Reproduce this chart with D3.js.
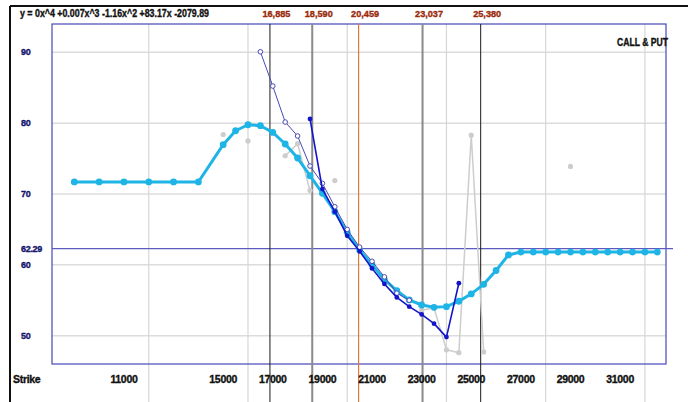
<!DOCTYPE html>
<html>
<head>
<meta charset="utf-8">
<script src="https://cdn.jsdelivr.net/npm/d3@7"></script>
<style>
  body { margin: 0; background: #ffffff; }
  text { font-family: "Liberation Sans", Arial, sans-serif; font-weight: bold; stroke-width: 0.35px; }
</style>
</head>
<body>
<div id="chart"></div>
<script>
// Strike categories and series values
const fitStrikes = [9000, 10000, 11000, 12000, 13000, 14000,
  15000, 15500, 16000, 16500, 17000, 17500, 18000, 18500, 19000, 19500,
  20000, 20500, 21000, 21500, 22000, 22500, 23000, 23500, 24000, 24500,
  25000, 25500, 26000, 26500, 27000, 27500, 28000, 28500, 29000, 29500,
  30000, 30500, 31000, 31500, 32000, 32500];
const fitValues = [71.7, 71.7, 71.7, 71.7, 71.7, 71.7,
  76.96, 78.93, 79.78, 79.64, 78.7, 77.06, 75.08, 72.58, 70.1, 67.5,
  64.6, 62.1, 60.0, 57.9, 56.35, 55.04, 54.33, 54.0, 54.1, 54.86,
  55.9, 57.25, 59.2, 61.4, 61.8, 61.8, 61.8, 61.8, 61.8, 61.8,
  61.8, 61.8, 61.8, 61.8, 61.8, 61.8];

const callStrikes = [16500, 17000, 17500, 18000, 18500, 19000, 19500,
  20000, 20500, 21000, 21500, 22000, 22500];
const callValues = [90.08, 85.24, 80.16, 78.19, 73.95, 71.5, 68.2,
  65.0, 62.5, 60.5, 58.3, 56.0, 55.0];

const putStrikes = [18500, 19000, 19500, 20000, 20500, 21000, 21500,
  22000, 22500, 23000, 23500, 24000, 24500];
const putValues = [80.6, 70.7, 67.5, 64.1, 61.9, 59.5, 57.3,
  55.4, 54.1, 53.0, 51.7, 49.8, 57.4];

// raw points, null = no value (gap in the line)
const rawStrikes = [15000, 15500, 16000, 16500, 17000, 17500, 18000, 18500,
  19000, 19500, 20000, 22500, 23000, 23500, 24000, 24500, 25000, 25500,
  26000, 29000];
const rawValues = [78.4, null, 77.5, null, null, 75.4, 77.1, 70.5,
  null, 71.9, null, null, 53.6, 53.9, 48.0, 47.6, 78.3, 47.7,
  null, 73.9];

const markerStrikes = [16885, 18590, 20459, 23037, 25380];
const markerLabels = ["16,885", "18,590", "20,459", "23,037", "25,380"];
const markerKinds = ["black", "gray", "orange", "gray", "black"];

const xTickValues = [11000, 15000, 17000, 19000, 21000, 23000, 25000, 27000, 29000, 31000];
const xGridValues = [12000, 16000, 20000, 24000, 28000, 32000];
const yTickValues = [50, 60, 70, 80, 90];
const refLevel = 62.29;

const equation = "y = 0x^4 +0.007x^3 -1.16x^2 +83.17x -2079.89";

const width = 688, height = 402;
const plot = { left: 52, right: 666, top: 24, bottom: 364 };

const svg = d3.select("#chart")
  .append("svg")
  .attr("width", width)
  .attr("height", height);

const x = d3.scaleLinear().domain([8100, 32850]).range([plot.left, plot.right]);
const y = d3.scaleLinear().domain([46, 94]).range([plot.bottom, plot.top]);

// outer frame (top + left rule)
svg.append("line")
  .attr("x1", 10).attr("x2", width).attr("y1", 6).attr("y2", 6)
  .attr("stroke", "#111").attr("stroke-width", 2);
svg.append("line")
  .attr("x1", 10).attr("x2", 10).attr("y1", 6).attr("y2", height)
  .attr("stroke", "#111").attr("stroke-width", 2);

// grid
svg.append("g")
  .selectAll("line")
  .data(yTickValues)
  .enter()
  .append("line")
  .attr("x1", plot.left).attr("x2", plot.right)
  .attr("y1", d => y(d)).attr("y2", d => y(d))
  .attr("stroke", "#dcdcdc").attr("stroke-width", 1.5);

svg.append("g")
  .selectAll("line")
  .data(xGridValues)
  .enter()
  .append("line")
  .attr("x1", d => x(d)).attr("x2", d => x(d))
  .attr("y1", plot.top).attr("y2", height)
  .attr("stroke", "#d6d6d6").attr("stroke-width", 1.2);

// plot border
svg.append("rect")
  .attr("x", plot.left).attr("y", plot.top)
  .attr("width", plot.right - plot.left).attr("height", plot.bottom - plot.top)
  .attr("fill", "none").attr("stroke", "#4646b8").attr("stroke-width", 1.2);

// reference level line
svg.append("line")
  .attr("x1", plot.left).attr("x2", 673)
  .attr("y1", y(refLevel)).attr("y2", y(refLevel))
  .attr("stroke", "#5c5cc0").attr("stroke-width", 1.2);

// vertical markers with labels on top
const markerColor = { black: "#1a1a1a", gray: "#8a8a8a", orange: "#e0783c" };
const markerWidth = { black: 1, gray: 2, orange: 1.2 };

svg.append("g")
  .selectAll("line")
  .data(markerStrikes)
  .enter()
  .append("line")
  .attr("x1", d => x(d)).attr("x2", d => x(d))
  .attr("y1", plot.top).attr("y2", height)
  .attr("stroke", (d, i) => markerColor[markerKinds[i]])
  .attr("stroke-width", (d, i) => markerWidth[markerKinds[i]]);

svg.append("g")
  .selectAll("text")
  .data(markerStrikes)
  .enter()
  .append("text")
  .attr("x", d => x(d) - 7.5)
  .attr("y", 17)
  .attr("font-size", "9.5px")
  .attr("fill", "#9a2a0a")
  .attr("stroke", "#9a2a0a")
  .attr("textLength", 28)
  .attr("lengthAdjust", "spacingAndGlyphs")
  .text((d, i) => markerLabels[i]);

// equation header
svg.append("text")
  .attr("x", 20).attr("y", 17)
  .attr("font-size", "10px")
  .attr("fill", "#111")
  .attr("stroke", "#111")
  .attr("textLength", 189)
  .attr("lengthAdjust", "spacingAndGlyphs")
  .text(equation);

svg.append("text")
  .attr("x", 668).attr("y", 45.5)
  .attr("font-size", "10px")
  .attr("fill", "#111")
  .attr("stroke", "#111")
  .attr("text-anchor", "end")
  .attr("textLength", 51)
  .attr("lengthAdjust", "spacingAndGlyphs")
  .text("CALL & PUT");

// y tick labels
svg.append("g")
  .selectAll("text")
  .data(yTickValues.concat([refLevel]))
  .enter()
  .append("text")
  .attr("x", 21)
  .attr("y", d => y(d))
  .attr("dy", "0.35em")
  .attr("font-size", "9px")
  .attr("fill", "#14146e")
  .attr("stroke", "#14146e")
  .attr("letter-spacing", "-0.3")
  .text(d => d === refLevel ? "62.29" : d);

// x tick labels
svg.append("g")
  .selectAll("text")
  .data(xTickValues)
  .enter()
  .append("text")
  .attr("x", d => x(d))
  .attr("y", 379)
  .attr("dy", "0.35em")
  .attr("text-anchor", "middle")
  .attr("font-size", "10.5px")
  .attr("fill", "#111")
  .attr("stroke", "#111")
  .attr("letter-spacing", "-0.3")
  .text(d => d);

svg.append("text")
  .attr("x", 13).attr("y", 379)
  .attr("dy", "0.35em")
  .attr("font-size", "10.5px")
  .attr("fill", "#111")
  .attr("stroke", "#111")
  .attr("letter-spacing", "-0.3")
  .text("Strike");

// series helper
function drawSeries(strikes, values, opts) {
  const pts = strikes.map((s, i) => ({ s: s, v: values[i] }));
  const line = d3.line()
    .defined(d => d.v !== null)
    .x(d => x(d.s))
    .y(d => y(d.v));

  const g = svg.append("g");
  g.append("path")
    .datum(pts)
    .attr("d", line)
    .attr("fill", "none")
    .attr("stroke", opts.color)
    .attr("stroke-width", opts.width)
    .attr("stroke-linejoin", "round");

  g.selectAll("circle")
    .data(pts.filter(d => d.v !== null))
    .enter()
    .append("circle")
    .attr("cx", d => x(d.s))
    .attr("cy", d => y(d.v))
    .attr("r", opts.r)
    .attr("fill", opts.hollow ? "#ffffff" : opts.color)
    .attr("stroke", opts.color)
    .attr("stroke-width", opts.hollow ? 1 : 0);
}

drawSeries(rawStrikes, rawValues, { color: "#cdcdcd", width: 1.5, r: 2.6 });
drawSeries(fitStrikes, fitValues, { color: "#1eb4e6", width: 3, r: 3.4 });
drawSeries(callStrikes, callValues, { color: "#4a4ab4", width: 1, r: 2.3, hollow: true });
drawSeries(putStrikes, putValues, { color: "#1414c8", width: 1.6, r: 2.4 });
</script>
</body>
</html>
